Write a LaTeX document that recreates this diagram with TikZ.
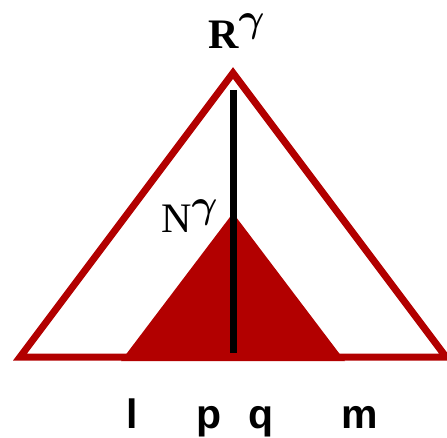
\documentclass[tikz,border=0pt]{standalone}
\usepackage{graphicx}
\usepackage{fontspec}
\setmainfont{Liberation Serif}
\newfontfamily\labsans{Liberation Sans}
\definecolor{tri}{HTML}{B20000}
\newcommand{\biggam}{\scalebox{1.6}{\fontsize{24.88}{25}\selectfont$\boldsymbol{\gamma}$}}
\usepackage{amsmath}
\begin{document}
\begin{tikzpicture}[x=1pt,y=-1pt,
  outline/.style={draw=tri,line width=7pt,line join=miter},
  lab/.style={font=\labsans\bfseries\fontsize{41}{41}\selectfont,anchor=base,inner sep=0pt},
  sym/.style={anchor=base west,inner sep=0pt}]
\useasboundingbox (0,0) rectangle (447,437);
% filled inner triangle
\fill[tri] (233,213) coordinate (napex) -- (121,361) -- (345,361) -- cycle;
% outer triangle
\draw[outline] (20,357) coordinate (bl) -- (233,73) coordinate (apex) -- (446,357) coordinate (br) -- cycle;
% vertical line
\coordinate (vt) at (233,90);
\coordinate (vb) at (233,353);
\draw[black,line width=7pt] (vt) -- (vb);
% labels
\node[sym] (R) at (208,48) {\fontsize{42}{42}\selectfont\bfseries R\raisebox{17pt}{\biggam}};
\node[sym] (N) at (161,232) {\fontsize{42}{42}\selectfont N\raisebox{15pt}{\biggam}};
\node[lab] (l) at (132,428) {l};
\node[lab] (p) at (209,428) {p};
\node[lab] (q) at (261,428) {q};
\node[lab] (m) at (360,428) {m};
\end{tikzpicture}
\end{document}
